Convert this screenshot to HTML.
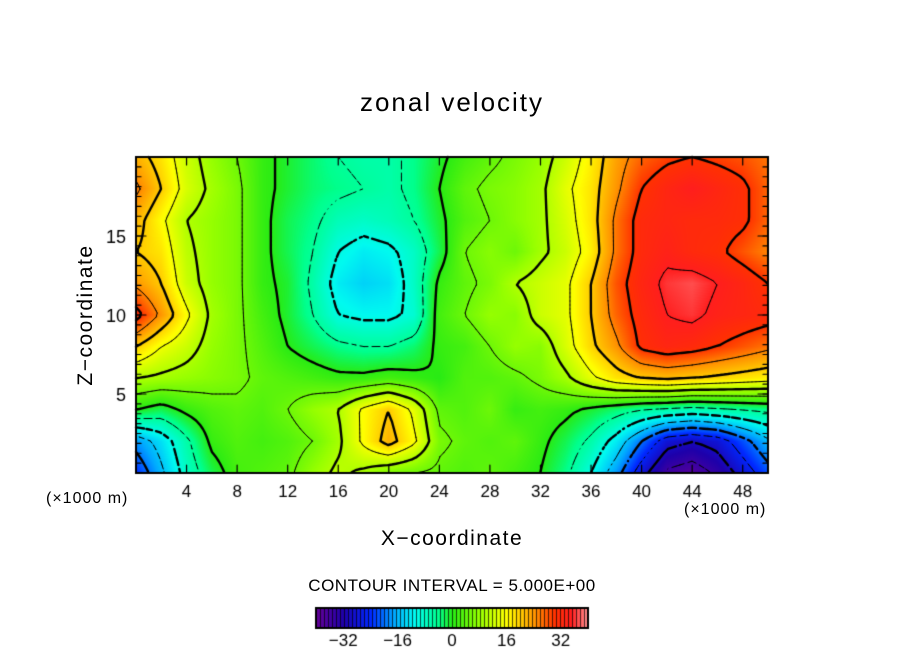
<!DOCTYPE html>
<html><head><meta charset="utf-8"><style>
body{margin:0;background:#fff;width:904px;height:654px;overflow:hidden;position:relative;font-family:"Liberation Sans",sans-serif}
.t{position:absolute;color:#000;white-space:nowrap}
</style></head><body>
<div class="t" style="left:0;width:904px;text-align:center;top:87px;font-size:26px;letter-spacing:2px">zonal velocity</div>
<div class="t" style="left:86px;top:315px;font-size:21px;letter-spacing:1.5px;transform:translate(-50%,-50%) rotate(-90deg)">Z−coordinate</div>
<div class="t" style="left:0;width:904px;text-align:center;top:527px;font-size:21px;letter-spacing:1.5px">X−coordinate</div>
<div class="t" style="left:46px;top:490px;font-size:16px;letter-spacing:1px">(×1000 m)</div>
<div class="t" style="left:684px;top:501px;font-size:16px;letter-spacing:1px">(×1000 m)</div>
<div class="t" style="left:0;width:904px;text-align:center;top:576px;font-size:17px;letter-spacing:0.5px">CONTOUR INTERVAL = 5.000E+00</div>
<canvas id="c" width="904" height="654" style="position:absolute;left:0;top:0"></canvas>
<script>
const xVals=[0,2,4,6,8,10,12,14,16,18,20,22,24,26,28,30,32,34,36,38,40,42,44,46,48,50];
const zVals=[20,18,16,14,12,10,8,6,4,2,0];
const r20=[22,18,12,8,5,1,-1,-3,-5,-6,-6,-4,-1,2,4,6,8,12,17,23,27,29,30,29,28,26];
const r18=[26,20,13,9,6,1,-1,-3,-4,-5,-6,-4,0,4,6,7,9,14,18,24,30,33,35,33,31,27];
const r16=[22,16,10,8,6,1,-2,-4,-7,-8,-7,-5,-1,3,5,7,9,13,18,26,32,33,32,32,31,27];
const r14=[20,18,11,8,6,1,-2,-5,-10,-12,-11,-8,-2,5,7,5,9,12,17,26,32,34,32,31,28,25];
const r12=[24,20,12,8,6,1,-1,-6,-12,-14,-13,-8,1,4,6,10,12,14,20,28,33,36,37,35,33,30];
const r10=[32,24,16,9,6,2,-1,-5,-10,-11,-11,-9,2,5,8,7,12,14,20,27,32,35,36,34,33,32];
const r8=[20,15,12,8,6,3,0,-2,-4,-5,-5,-3,1,2,5,8,7,13,19,24,31,33,32,30,28,26];
const r6=[10,9,8,7,6,4,3,2,1,1,2,1,0,3,3,4,6,9,14,18,20,21,20,19,18,17];
const r4=[0,-2,1,3,4,3,5,8,10,16,20,14,4,3,5,1,2,1,-1,-3,-5,-6,-7,-6,-5,-4];
const r2=[-18,-13,-6,1,3,2,3,5,9,16,22,16,6,4,3,4,1,-2,-6,-12,-20,-28,-30,-28,-22,-16];
const r0=[-24,-16,-8,-2,2,3,4,8,11,9,6,5,4,3,4,2,0,-4,-10,-18,-28,-36,-38,-34,-28,-22];
const rows=[r20,r18,r16,r14,r12,r10,r8,r6,r4,r2,r0];
const xTicks=[4,8,12,16,20,24,28,32,36,40,44,48];
const yTicks=[5,10,15];
const cbTicks=[-32,-16,0,16,32];

const X0=136,X1=768,Y0=157,Y1=473;
const sx=x=>X0+(x-0)/(50-0)*(X1-X0);
const sy=z=>Y1-(z-0)/(20-0)*(Y1-Y0);
const stops=[[-40,[100,0,150]],[-32,[30,0,170]],[-24,[0,40,255]],[-17,[0,170,255]],[-11,[0,250,240]],[-4,[0,255,140]],[0,[40,235,20]],[8,[150,255,0]],[16,[255,255,0]],[24,[255,150,0]],[30,[255,50,0]],[35,[255,30,30]],[40,[255,150,150]]];
function col(v){if(v<=stops[0][0])return stops[0][1];for(let i=1;i<stops.length;i++){if(v<=stops[i][0]){const a=stops[i-1],b=stops[i],t=(v-a[0])/(b[0]-a[0]);return a[1].map((c,k)=>Math.round(c+(b[1][k]-c)*t));}}return stops[stops.length-1][1];}
function val(x,z){
  let fi=(x-xVals[0])/(xVals[1]-xVals[0]);let fj=(zVals[0]-z)/(zVals[0]-zVals[1]);
  fi=Math.max(0,Math.min(xVals.length-1.0001,fi));fj=Math.max(0,Math.min(zVals.length-1.0001,fj));
  const i=Math.floor(fi),j=Math.floor(fj),u=fi-i,w=fj-j;
  const a=rows[j][i],b=rows[j][i+1],c=rows[j+1][i],d=rows[j+1][i+1];
  return a*(1-u)*(1-w)+b*u*(1-w)+c*(1-u)*w+d*u*w;}
const cv=document.getElementById('c');const g=cv.getContext('2d');
const W=X1-X0,H=Y1-Y0;const img=g.createImageData(W,H);
const px2x=p=>(p+0.5)/W*50, py2z=p=>20-(p+0.5)/H*20;
for(let py=0;py<H;py++)for(let px=0;px<W;px++){const c=col(val(px2x(px),py2z(py)));const k=(py*W+px)*4;img.data[k]=c[0];img.data[k+1]=c[1];img.data[k+2]=c[2];img.data[k+3]=255;}
g.putImageData(img,X0,Y0);
const S=4,nx=Math.ceil(W/S),ny=Math.ceil(H/S);
const F=[];for(let j=0;j<=ny;j++){F[j]=[];for(let i=0;i<=nx;i++)F[j][i]=val(Math.min(50,i*S/W*50),Math.max(0,20-j*S/H*20));}
g.strokeStyle='#000';g.lineCap='round';
for(let L=-35;L<=35;L+=5){
  g.lineWidth=(L%10===0)?2.4:1;g.beginPath();
  for(let j=0;j<ny;j++)for(let i=0;i<nx;i++){
    if(L<0&&((i+j)%3===0))continue;
    const v=[F[j][i],F[j][i+1],F[j+1][i+1],F[j+1][i]];
    const p=[[i,j],[i+1,j],[i+1,j+1],[i,j+1]];const pts=[];
    for(let e=0;e<4;e++){const a=v[e],b=v[(e+1)%4];if((a<L)!==(b<L)){const t=(L-a)/(b-a);const P=p[e],Q=p[(e+1)%4];pts.push([X0+(P[0]+(Q[0]-P[0])*t)*S,Y0+(P[1]+(Q[1]-P[1])*t)*S]);}}
    for(let k=0;k+1<pts.length;k+=2){g.moveTo(pts[k][0],pts[k][1]);g.lineTo(pts[k+1][0],pts[k+1][1]);}
  }
  g.stroke();}
g.clearRect(X1+1,Y0-5,20,H+10);
g.clearRect(X0-5,Y1+1,W+10,10);
g.lineWidth=2;g.strokeRect(X0,Y0,W,H);g.lineWidth=1.2;
g.font='17px "Liberation Sans",sans-serif';g.fillStyle='#000';g.textAlign='center';
xTicks.forEach(t=>{const x=sx(t);g.beginPath();g.moveTo(x,Y1);g.lineTo(x,Y1-8);g.moveTo(x,Y0);g.lineTo(x,Y0+8);g.stroke();g.fillText(String(t),x,Y1+24);});
for(let z=0.625;z<20;z+=0.625){const y=sy(z);g.beginPath();g.moveTo(X0,y);g.lineTo(X0+5,y);g.moveTo(X1,y);g.lineTo(X1-5,y);g.stroke();}
g.textAlign='right';g.font='18px "Liberation Sans",sans-serif';
yTicks.forEach(t=>{const y=sy(t);g.beginPath();g.moveTo(X0,y);g.lineTo(X0+10,y);g.moveTo(X1,y);g.lineTo(X1-10,y);g.stroke();g.fillText(String(t),X0-10,y+7);});
const CB0=316,CB1=588,CBy=608,CBh=20;const cbv=p=>-40+(p-CB0)/(CB1-CB0)*80;
for(let p=CB0;p<CB1;p++){const c=col(cbv(p));g.fillStyle=(p%4===0)?'rgb('+c.map(v=>Math.round(v*0.3)).join(',')+')':'rgb('+c.join(',')+')';g.fillRect(p,CBy,1,CBh);}
g.lineWidth=2;g.strokeStyle='#000';g.strokeRect(CB0,CBy,CB1-CB0,CBh);
g.fillStyle='#000';g.textAlign='center';g.font='17px "Liberation Sans",sans-serif';
cbTicks.forEach(t=>{const x=CB0+(t+40)/80*(CB1-CB0);g.fillText((t<0?'−':'')+Math.abs(t),x,CBy+38);});
</script>
</body></html>
